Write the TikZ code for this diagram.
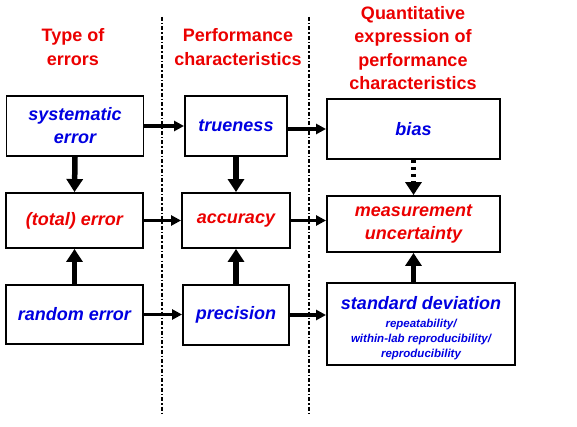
\documentclass[tikz,border=0pt]{standalone}
\usepackage{fontspec}
\setmainfont{Liberation Sans}
\usetikzlibrary{arrows.meta}
\definecolor{hdred}{RGB}{235,0,0}
\definecolor{txblue}{RGB}{0,0,225}

\tikzset{
  box/.style={draw, line width=1.9pt, fill=white, align=center, inner sep=0pt,
    font=\fontsize{18}{23}\selectfont\bfseries\itshape},
  hdr/.style={align=center, text=hdred, font=\fontsize{18}{23.5}\selectfont\bfseries},
  sep/.style={line width=2.6pt, dash pattern=on 4pt off 2pt on 1.5pt off 2pt},
  flow/.style={line width=3.2pt, -{Stealth[length=10pt,width=10pt,inset=0pt]}},
  lift/.style={line width=5.5pt, -{Triangle[length=13pt,width=16pt]}},
}
\newcommand{\sdsmall}{\fontsize{11.5}{15}\selectfont}

\begin{document}
\begin{tikzpicture}[x=1pt, y=-1pt, line join=miter]
  \useasboundingbox (0,0) rectangle (577,427);

  % --- column separators ---
  \draw[sep] (162,17) -- (162,415);
  \draw[sep] (309,17) -- (309,415);

  % --- headings ---
  \node[hdr] (hdA) at (73,47) {Type of\\errors};
  \node[hdr] (hdB) at (238,47) {Performance\\characteristics};
  \node[hdr] (hdC) at (413,48) {Quantitative\\expression of\\performance\\characteristics};

  % --- row 1: systematic part ---
  \node[box, minimum width=137pt, minimum height=60pt, text=txblue] (sys) at (75,126) {systematic\\error};
  \node[box, minimum width=102pt, minimum height=60pt, text=txblue] (true) at (236,126) {trueness};
  \node[box, minimum width=173pt, minimum height=60pt, text=txblue] (bias) at (413.5,129) {bias};

  % --- row 2: total ---
  \node[box, minimum width=137pt, minimum height=55pt, text=hdred] (tot) at (74.5,220.5) {(total) error};
  \node[box, minimum width=108pt, minimum height=55pt, text=hdred] (acc) at (236,220.5) {accuracy};
  \node[box, minimum width=173pt, minimum height=56pt, text=hdred] (mu) at (413.5,224) {measurement\\uncertainty};

  % --- row 3: random part ---
  \node[box, minimum width=188pt, minimum height=82pt] (sd) at (421,324) {};
  \node[align=center, inner sep=0pt, text=txblue, font=\fontsize{18}{15}\selectfont\bfseries\itshape]
    (sdtext) at ([yshift=-4.5pt]sd.center)
    {standard deviation\\[3pt]\sdsmall repeatability/\\\sdsmall within-lab reproducibility/\\\sdsmall reproducibility};
  \node[box, minimum width=137pt, minimum height=59pt, text=txblue] (rand) at (74.5,314.5) {random error};
  \node[box, minimum width=106pt, minimum height=60pt, text=txblue] (prec) at (236,315) {precision};

  % --- horizontal flows ---
  \draw[flow] (sys.east) -- (sys.east -| true.west);
  \draw[flow] (true.east |- bias.west) -- (bias.west);
  \draw[flow] (tot.east) -- (acc.west);
  \draw[flow] (acc.east) -- (acc.east -| mu.west);
  \draw[flow] (rand.east) -- (rand.east -| prec.west);
  \draw[flow] (prec.east) -- (prec.east -| sd.west);

  % --- vertical flows ---
  \draw[lift] (sys.south) -- (tot.north);
  \draw[lift] (true.south) -- (acc.north);
  \draw[lift] (rand.north) -- (tot.south);
  \draw[lift] (prec.north) -- (acc.south);
  \draw[lift] (sd.north -| mu.south) -- (mu.south);
  \draw[lift, dash pattern=on 3.5pt off 3.5pt] (bias.south -| mu.south) -- (mu.north);
\end{tikzpicture}
\end{document}
